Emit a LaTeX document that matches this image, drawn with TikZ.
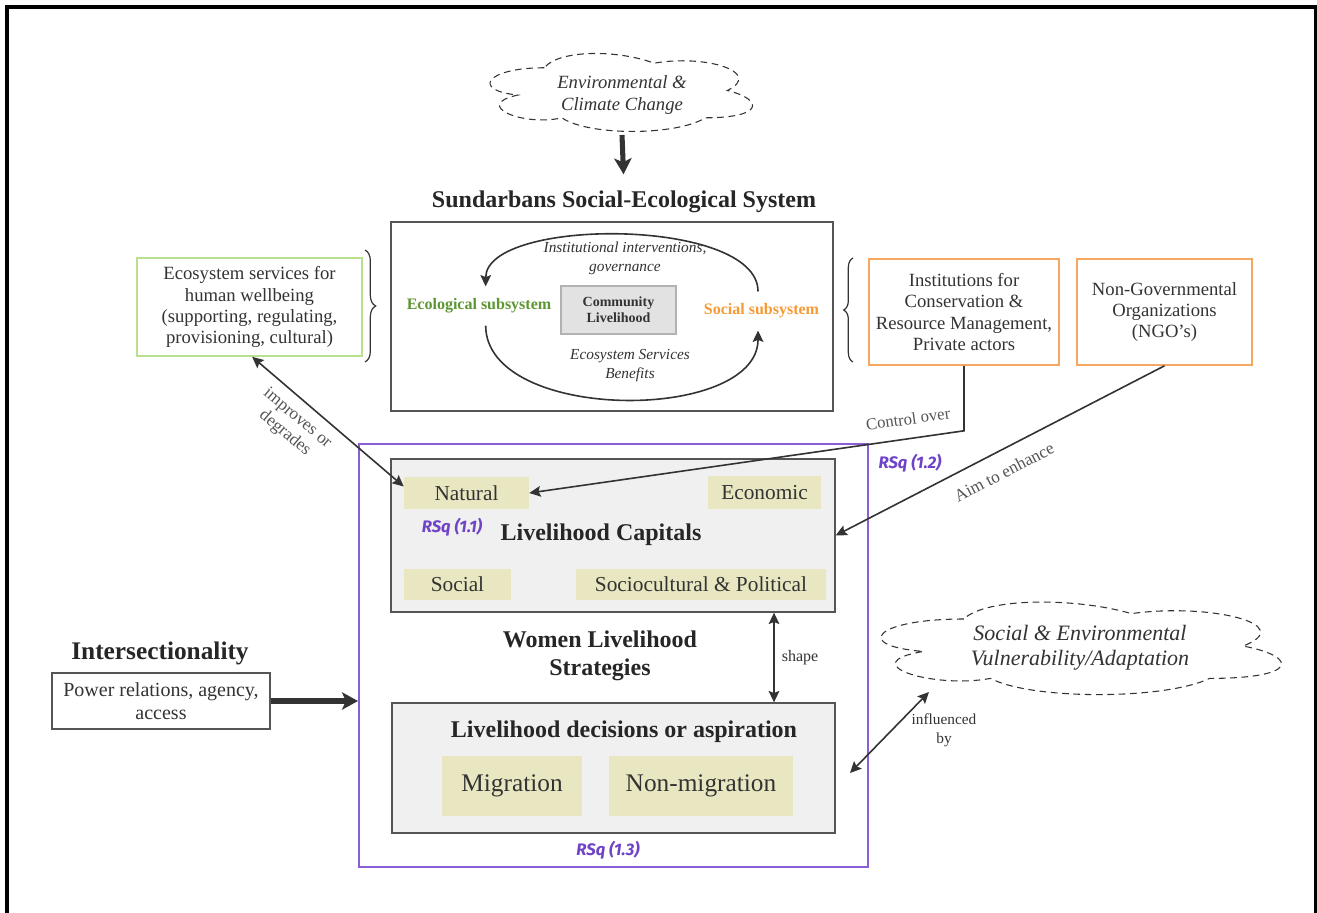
\documentclass[tikz,border=0pt]{standalone}
\usepackage{fontspec}
\setmainfont{Liberation Serif}
\newfontfamily\rsqfont{Fira Sans}
\usetikzlibrary{arrows.meta,fit,calc,decorations.pathreplacing}
\definecolor{txt}{HTML}{333333}
\definecolor{ln}{HTML}{333333}
\definecolor{lbl}{HTML}{555555}
\definecolor{purp}{HTML}{8A5FD6}
\definecolor{rsqc}{HTML}{6F42C8}
\definecolor{lgreen}{HTML}{B9E08F}
\definecolor{orng}{HTML}{F5A862}
\definecolor{ecog}{HTML}{5E9632}
\definecolor{soco}{HTML}{F79A33}
\definecolor{capfill}{HTML}{F0F0F0}
\definecolor{tanfill}{HTML}{E8E7C1}
\definecolor{comfill}{HTML}{E2E2E2}
\newcommand\fsz[2]{\fontsize{#1}{#2}\selectfont}
\tikzset{
  every node/.style={text=txt},
  fbox/.style={inner sep=0pt},
  btxt/.style={inner sep=0pt, align=center},
  capbox/.style={fbox, fill=capfill, draw=lbl, line width=1pt},
  tanbox/.style={fbox, fill=tanfill},
  bigtitle/.style={font=\fsz{18}{21}\bfseries, align=center, text=black!85},
  rsq/.style={font=\rsqfont\fsz{12.5}{14}\bfseries\itshape, text=rsqc},
  elabel/.style={font=\fsz{12.5}{14.5}, text=lbl, align=center},
  arr/.style={draw=ln, line width=1.2pt, -{Stealth[length=8.5pt,width=8pt,inset=1.5pt]}},
  darr/.style={draw=ln, line width=1.2pt, {Stealth[length=8.5pt,width=8pt,inset=1.5pt]}-{Stealth[length=8.5pt,width=8pt,inset=1.5pt]}},
  thickarr/.style={draw=ln, line width=3.8pt, -{Stealth[length=12pt,width=13pt,inset=3pt]}},
  cloudline/.style={draw=ln, dash pattern=on 5pt off 3.5pt, line width=0.8pt},
  cloudpath/.style={insert path={(0.25,0.25) .. controls (0.05,0.25) and (0,0.5) .. (0.16,0.55) .. controls (0,0.66) and (0.18,0.9) .. (0.31,0.8) .. controls (0.4,1) and (0.7,1) .. (0.8,0.8) .. controls (1,0.8) and (1,0.6) .. (0.875,0.5) .. controls (1,0.3) and (0.8,0.1) .. (0.625,0.2) .. controls (0.5,0.05) and (0.3,0.05) .. (0.25,0.25) -- cycle}},
  brc/.style={draw=ln, line width=0.9pt, decorate},
}
\begin{document}
\begin{tikzpicture}[x=0.75pt,y=-0.75pt]
\useasboundingbox (0,0) rectangle (1317,913);
\fill[white] (0,0) rectangle (1317,913);
% frame
\draw[black, line width=2.4pt] (7,915) -- (7,7) -- (1316,7) -- (1316,915);

% top cloud
\begin{scope}[shift={(471,45)}, xscale=293, yscale=91]
  \draw[cloudline, cloudpath];
\end{scope}
\node[btxt, font=\fsz{14}{16}\itshape] (envT) at (622,95) {Environmental \&\\Climate Change};
\node[bigtitle] (ses) at (624,202) {Sundarbans Social-Ecological System};
\draw[thickarr, shorten >=9pt] ($(envT.center)+(0,40)$) -- (ses.north);

% SES box
\node[fbox, draw=lbl, line width=1pt, fit={(391,222) (833,411)}] (sesbox) {};
\node[fbox, fill=comfill, draw=black!30, line width=0.8pt, fit={(561,286) (676,334)}] (com) {};
\node[btxt, font=\fsz{10.5}{12}\bfseries] (comT) at (com.center) {Community\\Livelihood};
\node[font=\fsz{12}{14}\bfseries, text=ecog, inner xsep=2pt, inner ysep=9pt] (ecol) at (479,306) {Ecological subsystem};
\node[font=\fsz{12}{14}\bfseries, text=soco, inner xsep=2pt, inner ysep=9pt] (socs) at (761.5,311) {Social subsystem};
\node[font=\fsz{11.5}{14.2}\itshape, align=center] (instlab) at (625,258) {Institutional interventions,\\governance};
\node[font=\fsz{11.5}{14.2}\itshape, align=center] (esslab) at (630,366) {Ecosystem Services\\Benefits};
\draw[arr] ([xshift=-2.6pt]socs.north) .. controls (758,217) and (486,217) .. ([xshift=5pt]ecol.north);
\draw[arr] ([xshift=5pt]ecol.south) .. controls (486,423) and (758,423) .. ([xshift=-2.6pt]socs.south);

% side boxes
\node[fbox, draw=lgreen, line width=1.2pt, fit={(137,258) (362,356)}] (eco) {};
\node[btxt, font=\fsz{14}{15.8}] (ecoT) at (eco.center) {Ecosystem services for\\human wellbeing\\(supporting, regulating,\\provisioning, cultural)};
\node[fbox, draw=orng, line width=1.2pt, fit={(869,259) (1059,365)}] (inst) {};
\node[btxt, font=\fsz{14}{15.8}] (instT) at (inst.center) {Institutions for\\Conservation \&\\Resource Management,\\Private actors};
\node[fbox, draw=orng, line width=1.2pt, fit={(1077,259) (1252,365)}] (ngo) {};
\node[btxt, font=\fsz{14}{15.8}] (ngoT) at (ngo.center) {Non-Governmental\\Organizations\\(NGO's)};
\draw[brc, decoration={brace, amplitude=8pt}] (365,250) -- (365,362);
\draw[brc, decoration={brace, amplitude=7pt}] (853,362) -- (853,258);

% purple box
\node[fbox, draw=purp, line width=1.5pt, fit={(359,444) (868,867)}] (purple) {};

% capitals
\node[capbox, fit={(391,459) (835,612)}] (cap) {};
\node[tanbox, fit={(404,477) (529,509)}] (nat) {};
\node[btxt, font=\fsz{16}{18}] (natT) at (nat.center) {Natural};
\node[tanbox, fit={(708,476) (821,509)}] (econ) {};
\node[btxt, font=\fsz{16}{18}] (econT) at (econ.center) {Economic};
\node[tanbox, fit={(404,569) (511,600)}] (soc) {};
\node[btxt, font=\fsz{16}{18}] (socT) at (soc.center) {Social};
\node[tanbox, fit={(576,569) (826,600)}] (socpol) {};
\node[btxt, font=\fsz{16}{18}] (socpolT) at (socpol.center) {Sociocultural \& Political};
\node[bigtitle] (captitle) at (601,535) {Livelihood Capitals};
\node[rsq] (rsq1) at (452,527) {RSq (1.1)};
\node[rsq] (rsq2) at (910,463) {RSq (1.2)};

\node[bigtitle] (women) at (600,656) {Women Livelihood\\Strategies};

% decisions
\node[capbox, fit={(392,703) (835,833)}] (dec) {};
\node[bigtitle] (dectitle) at (624,732) {Livelihood decisions or aspiration};
\node[tanbox, fit={(442,756) (582,816)}] (mig) {};
\node[btxt, font=\fsz{19}{22}] (migT) at (mig.center) {Migration};
\node[tanbox, fit={(609,756) (793,816)}] (nonmig) {};
\node[btxt, font=\fsz{19}{22}] (nonmigT) at (nonmig.center) {Non-migration};
\node[rsq] (rsq3) at (608,850) {RSq (1.3)};

% intersectionality
\node[bigtitle, font=\fsz{19}{22}\bfseries] (inter) at (160,653) {Intersectionality};
\node[fbox, draw=lbl, line width=1pt, fit={(52,673) (270,729)}] (pow) {};
\node[btxt, font=\fsz{15}{17}] (powT) at (pow.center) {Power relations, agency,\\access};
\draw[thickarr] (pow.east) -- (pow.east -| purple.west);

% vulnerability cloud
\begin{scope}[shift={(852,592)}, xscale=447, yscale=108]
  \draw[cloudline, cloudpath];
\end{scope}
\node[btxt, font=\fsz{16.5}{19}\itshape] (vulT) at (1080,648) {Social \& Environmental\\Vulnerability/Adaptation};

% connectors
\draw[darr] ([xshift=2pt]eco.south) -- ($(nat.north west)!0.3!(nat.south west)$);
\node[elabel, font=\fsz{13}{14.5}, rotate=-40] (implab) at (291,426) {improves or\\degrades};
\draw[arr] (inst.south) -- ++(0,65) -- (nat.east);
\node[elabel, rotate=8] (ctrllab) at (908,419) {Control over};
\draw[arr] (ngo.south) -- (cap.east);
\node[elabel, font=\fsz{13}{15}, rotate=27.5] (aimlab) at (1004,472) {Aim to enhance};
\coordinate (sx) at (774,600);
\draw[darr] (cap.south -| sx) -- (dec.north -| sx);
\node[font=\fsz{12}{14}] (shapelab) at (800,658) {shape};
\coordinate (infA) at (850,773);
\coordinate (infB) at (929,692);
\draw[darr] (infA) -- (infB);
\node[font=\fsz{11.5}{14}, align=center] (inflab) at (944,730) {influenced\\by};
\end{tikzpicture}
\end{document}
